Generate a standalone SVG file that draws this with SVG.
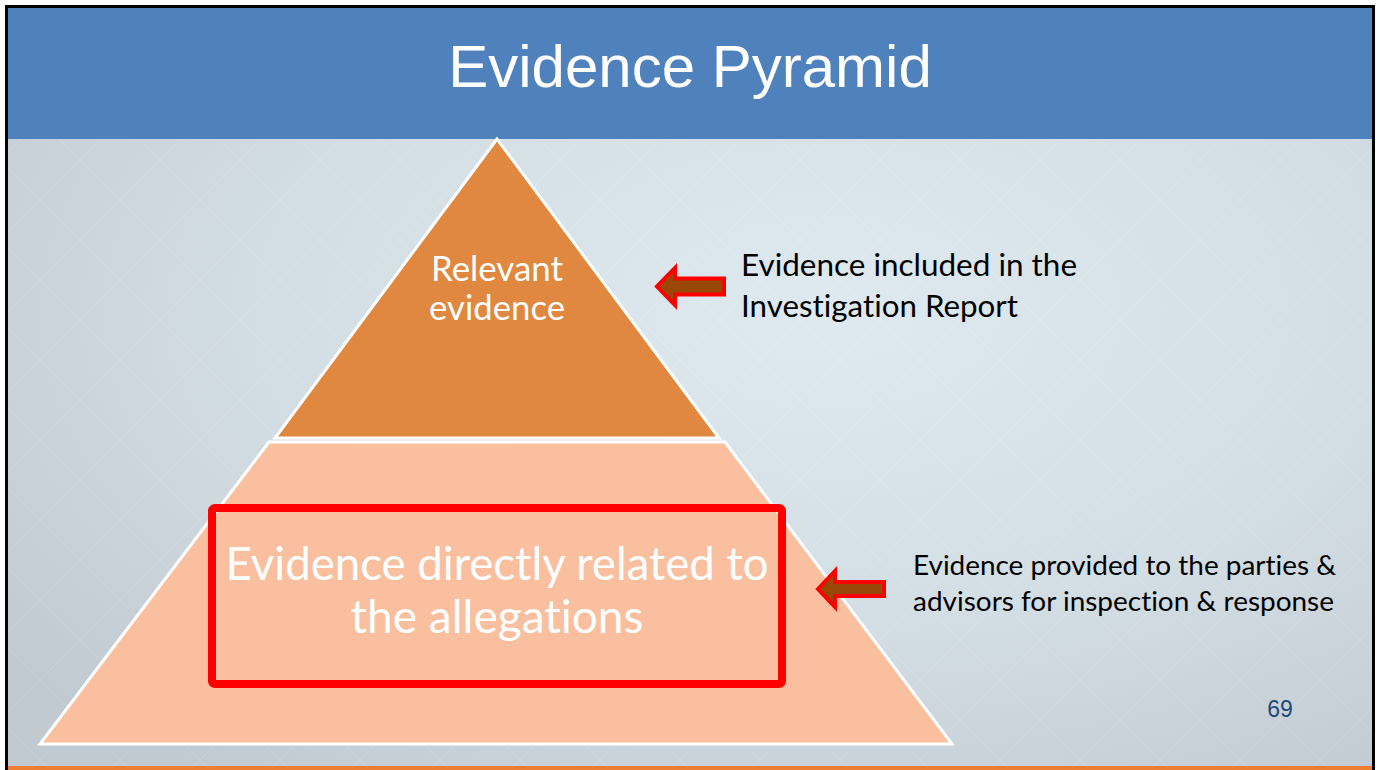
<svg xmlns="http://www.w3.org/2000/svg" width="1377" height="770" viewBox="0 0 1377 770">
  <defs>
    <radialGradient id="bg" cx="0.6" cy="0.4" r="0.75">
      <stop offset="0" stop-color="#DFEAF0"/>
      <stop offset="0.55" stop-color="#D3DDE4"/>
      <stop offset="1" stop-color="#C2CAD1"/>
    </radialGradient>
    <pattern id="lattice" width="80" height="80" patternUnits="userSpaceOnUse">
      <path d="M0 0 L80 80 M80 0 L0 80" stroke="#FFFFFF" stroke-width="1" opacity="0.1" fill="none"/>
    </pattern>
    <style>
      .ttl { font-family: "Liberation Sans", Arial, sans-serif; font-size: 60px; fill: #FFFFFF; }
      .wt { font-family: Lato, "Open Sans", sans-serif; fill: #FFFFFF; font-variant-ligatures: none; font-feature-settings: "liga" 0, "clig" 0, "dlig" 0; }
      .bk { font-family: Lato, "Open Sans", sans-serif; fill: #000000; font-variant-ligatures: none; font-feature-settings: "liga" 0, "clig" 0, "dlig" 0; }
      .arrow { fill: #984807; stroke: #FF0000; stroke-width: 4; stroke-linejoin: miter; }
      .pyr { stroke: #FFFFFF; stroke-width: 3; stroke-linejoin: miter; }
    </style>
  </defs>

  <!-- slide background -->
  <rect x="0" y="0" width="1377" height="770" fill="#FFFFFF"/>
  <rect x="7" y="7" width="1366" height="763" fill="url(#bg)"/>
  <rect x="7" y="7" width="1366" height="763" fill="url(#lattice)"/>
  <rect id="title-bar" x="7" y="7" width="1366" height="132" fill="#4F81BD"/>
  <rect x="7" y="766" width="1366" height="4" fill="#ED7D31"/>
  <path d="M6.5 770 V6.5 H1373.5 V770" fill="none" stroke="#000000" stroke-width="3"/>

  <g id="title">
    <text class="ttl" x="690" y="87" text-anchor="middle">Evidence Pyramid</text>
  </g>

  <g id="pyramid-base">
    <polygon class="pyr" points="269,442 725,442 952,744 40,744" fill="#F9BF9F"/>
  </g>

  <g id="pyramid-top">
    <polygon class="pyr" points="497,139 275,438 719,438" fill="#E0883F"/>
    <text class="wt" font-size="34" x="497" y="281" text-anchor="middle" textLength="132" lengthAdjust="spacingAndGlyphs">Relevant</text>
    <text class="wt" font-size="34" x="497" y="320" text-anchor="middle" textLength="136" lengthAdjust="spacingAndGlyphs">evidence</text>
  </g>

  <g id="highlight-box">
    <rect x="212" y="508" width="570" height="176" rx="3" fill="none" stroke="#FF0000" stroke-width="8"/>
    <text class="wt" font-size="46" x="497" y="580" text-anchor="middle" textLength="543" lengthAdjust="spacingAndGlyphs">Evidence directly related to</text>
    <text class="wt" font-size="46" x="497" y="633" text-anchor="middle" textLength="293" lengthAdjust="spacingAndGlyphs">the allegations</text>
  </g>

  <g id="connectors">
    <path class="arrow" d="M657 286.5 L675 268 L675 278.5 L724 278.5 L724 294.5 L675 294.5 L675 305 Z"/>
    <path class="arrow" d="M818 589 L835 571 L835 582 L884 582 L884 596 L835 596 L835 607 Z"/>
  </g>

  <g id="label-report">
    <text class="bk" font-size="30" x="741" y="276" textLength="336" lengthAdjust="spacingAndGlyphs">Evidence included in the</text>
    <text class="bk" font-size="30" x="741" y="317" textLength="277" lengthAdjust="spacingAndGlyphs">Investigation Report</text>
  </g>

  <g id="label-parties">
    <text class="bk" font-size="27" x="913" y="575" textLength="423" lengthAdjust="spacingAndGlyphs">Evidence provided to the parties &amp;</text>
    <text class="bk" font-size="27" x="913" y="611" textLength="421" lengthAdjust="spacingAndGlyphs">advisors for inspection &amp; response</text>
  </g>

  <g id="page-number">
    <text x="1280" y="717" text-anchor="middle" font-family="Liberation Sans, Arial, sans-serif" font-size="23" fill="#1F497D">69</text>
  </g>
</svg>
